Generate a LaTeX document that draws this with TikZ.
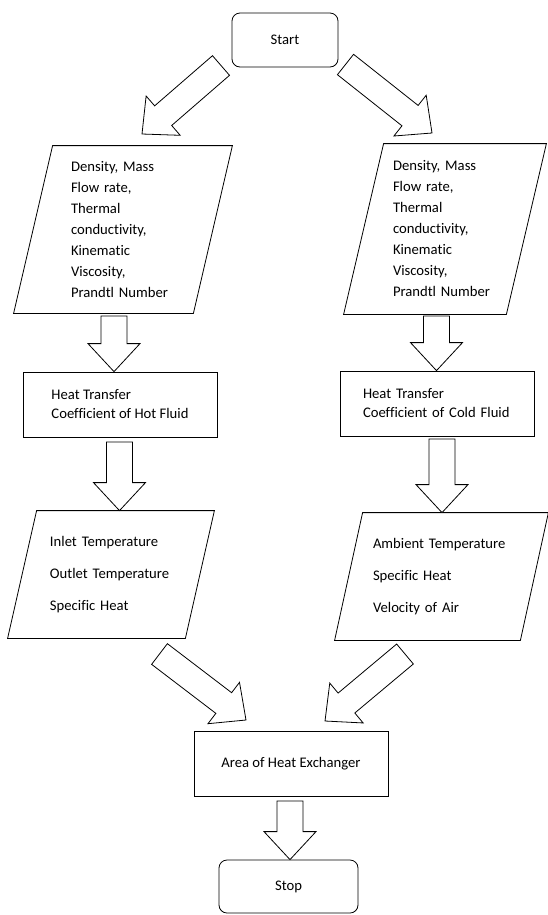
\documentclass[tikz,border=0pt]{standalone}
\usepackage{fontspec}
\setmainfont{Carlito}[Ligatures=NoCommon]
\usetikzlibrary{calc, positioning}
\tikzset{terminal/.style = {draw, rounded corners=6pt, minimum width=79.5pt, minimum height=40.5pt}}
\tikzset{process/.style = {draw, rectangle, minimum width=145.5pt, minimum height=48.75pt, align=left}}
\tikzset{data/.style = {rectangle, align=left}}
\tikzset{fat/.style = {draw, fill=white, line join=miter}}
% hollow block arrow from tail #1 to tip #2
\newcommand{\fatarrow}[2]{
  \coordinate (neck) at ($(#2)!21pt!(#1)$);
  \draw[fat] ($(#1)!9.75pt!90:(#2)$) -- ($(neck)!9.75pt!90:(#2)$) -- ($(neck)!19.5pt!90:(#2)$)
    -- (#2) -- ($(neck)!19.5pt!-90:(#2)$) -- ($(neck)!9.75pt!-90:(#2)$) -- ($(#1)!9.75pt!-90:(#2)$) -- cycle;
}

\begin{document}
\begin{tikzpicture}[x=0.75pt, y=-0.75pt, line width=0.6pt, font=\fontsize{11}{15.75}\selectfont]
  \useasboundingbox (0,0) rectangle (548,915);
  \path (285,40) node[terminal] (start) {Start}
        (123,229.5) node[data, minimum width=134.25pt, minimum height=125.25pt, text width=78pt] (hotprop)
          {Density, Mass\\Flow rate,\\Thermal\\conductivity,\\Kinematic\\Viscosity,\\Prandtl Number}
        (445,229) node[data, minimum width=121.5pt, minimum height=127.5pt, text width=78pt] (coldprop)
          {Density, Mass\\Flow rate,\\Thermal\\conductivity,\\Kinematic\\Viscosity,\\Prandtl Number}
        (120,404.5) node[process] (hotcoef) {Heat Transfer\\[-1.5pt]Coefficient of Hot Fluid}
        (437,403.5) node[process, text width=111pt] (coldcoef) {Heat Transfer\\[-1.5pt]Coefficient of Cold Fluid}
        (111,574.5) node[data, minimum width=132.75pt, minimum height=95.25pt, text width=91.5pt] (hottemp)
          {Inlet Temperature\\[8.25pt]Outlet Temperature\\[8.25pt]Specific Heat}
        (441.5,576.5) node[data, minimum width=138.75pt, minimum height=95.25pt, text width=102.75pt] (coldtemp)
          {Ambient Temperature\\[8.25pt]Specific Heat\\[8.25pt]Velocity of Air}
        (291,763.5) node[process] (area) {Area of Heat Exchanger}
        (288.5,886.5) node[terminal, minimum width=104.25pt, minimum height=39.75pt] (stop) {Stop};

  % slanted input/output boxes
  \foreach \n/\s in {hotprop/39, coldprop/40, hottemp/29, coldtemp/28}
  {
    \draw ($(\n.south west)+(-\s/2,0)$) -- ($(\n.north west)+(\s/2,0)$)
       -- ($(\n.north east)+(\s/2,0)$) -- ($(\n.south east)+(-\s/2,0)$) -- cycle;
  }

  \coordinate (ar1) at (221,65.5);   \coordinate (ar1t) at (142,134);
  \coordinate (ar2) at (345.5,64.5); \coordinate (ar2t) at (432,133);
  \coordinate (ar3) at (114,316);    \coordinate (ar3t) at (hotcoef.north -| ar3);
  \coordinate (ar4) at (436.5,316);  \coordinate (ar4t) at (coldcoef.north -| ar4);
  \coordinate (ar5) at (119.5,442);  \coordinate (ar5t) at (hottemp.north -| ar5);
  \coordinate (ar6) at (442,439);    \coordinate (ar6t) at (coldtemp.north -| ar6);
  \coordinate (ar7) at (159.5,654);  \coordinate (ar7t) at (246,720);
  \coordinate (ar8) at (405,654);    \coordinate (ar8t) at (325,721);
  \coordinate (ar9) at (290,801);    \coordinate (ar9t) at (stop.north -| ar9);

  \foreach \i/\o in {ar1/ar1t, ar2/ar2t, ar3/ar3t, ar4/ar4t, ar5/ar5t,
                     ar6/ar6t, ar7/ar7t, ar8/ar8t, ar9/ar9t}
  {
    \fatarrow{\i}{\o}
  }
\end{tikzpicture}
\end{document}
